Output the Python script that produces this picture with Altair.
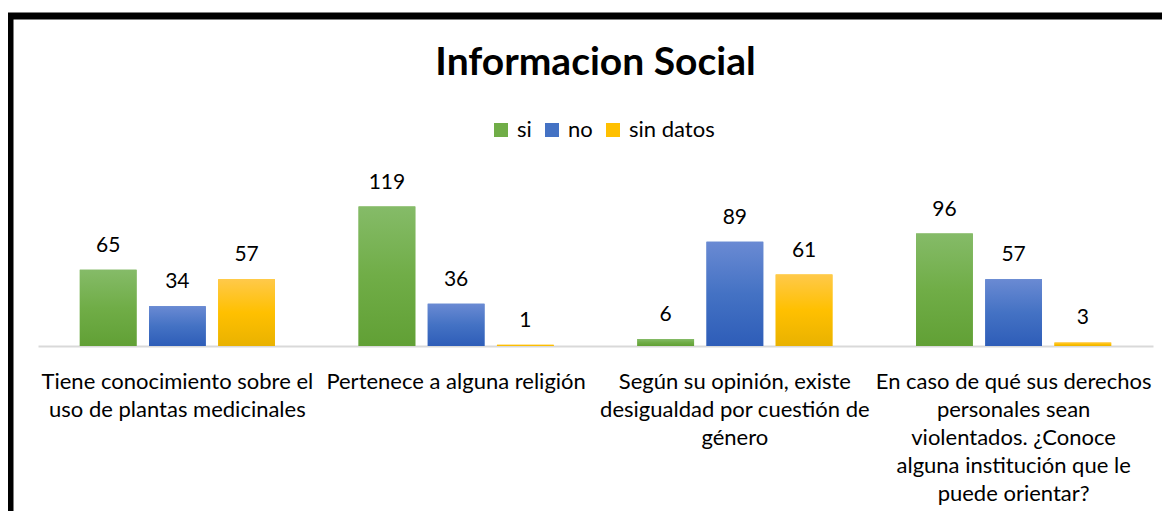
import json
import altair as alt
import pandas as pd

categories = [
    "Tiene conocimiento sobre el uso de plantas medicinales",
    "Pertenece a alguna religión",
    "Según su opinión, existe desigualdad por cuestión de género",
    "En caso de qué sus derechos personales sean violentados. ¿Conoce alguna institución que le puede orientar?",
]
label_lines = [
    ["Tiene conocimiento sobre el", "uso de plantas medicinales"],
    ["Pertenece a alguna religión"],
    ["Según su opinión, existe", "desigualdad por cuestión de", "género"],
    ["En caso de qué sus derechos", "personales sean", "violentados. ¿Conoce",
     "alguna institución que le", "puede orientar?"],
]
series = ["si", "no", "sin datos"]
si_values = [65, 119, 6, 96]
no_values = [34, 36, 89, 57]
sin_datos_values = [57, 1, 61, 3]

colors = ["#70AD47", "#4472C4", "#FFC000"]
grad_stops = [
    ["#85BB68", "#70AD47", "#61A035"],
    ["#6A8AD3", "#4472C4", "#2E5DB8"],
    ["#FFC94A", "#FFC000", "#E9B200"],
]

rows = []
for i, c in enumerate(categories):
    for s, vals in zip(series, [si_values, no_values, sin_datos_values]):
        rows.append({"categoria": c, "serie": s, "valor": vals[i]})
df = pd.DataFrame(rows)

label_expr = " : ".join(
    f"datum.value == {json.dumps(c, ensure_ascii=False)} ? {json.dumps(l, ensure_ascii=False)}"
    for c, l in zip(categories, label_lines)
) + " : datum.value"

FONT = "Lato"

x = alt.X(
    "categoria:N",
    sort=categories,
    scale=alt.Scale(paddingInner=0.3, paddingOuter=0.15),
    axis=alt.Axis(
        title=None, labelAngle=0, labelExpr=label_expr, labelFontSize=22,
        labelColor="#000000", labelFont=FONT, labelLineHeight=28,
        labelPadding=35, labelLimit=400, ticks=False, domainColor="#D9D9D9",
        domainWidth=2, labelBaseline="middle",
    ),
)
xoff = alt.XOffset(
    "serie:N", sort=series,
    scale=alt.Scale(domain=series, paddingInner=0.18, paddingOuter=0),
)
y = alt.Y("valor:Q", scale=alt.Scale(domain=[0, 140]), axis=None)

base = alt.Chart(df).encode(x=x, xOffset=xoff, y=y)

bars = base.mark_bar().encode(
    color=alt.Color(
        "serie:N", sort=series,
        scale=alt.Scale(domain=series, range=colors),
        legend=alt.Legend(
            title=None, orient="none", legendX=452, legendY=-63,
            direction="horizontal", symbolType="square", symbolSize=196,
            labelFontSize=22, labelFont=FONT, labelColor="#000000",
            columnPadding=9, labelOffset=5, padding=0, symbolStrokeWidth=0,
        ),
    )
)

grad_layers = []
for s, st in zip(series, grad_stops):
    grad_layers.append(
        base.transform_filter(alt.datum.serie == s).mark_bar(
            fill=alt.Gradient(
                gradient="linear", x1=0, y1=0, x2=0, y2=1,
                stops=[
                    alt.GradientStop(offset=0, color=st[0]),
                    alt.GradientStop(offset=0.5, color=st[1]),
                    alt.GradientStop(offset=1, color=st[2]),
                ],
            )
        )
    )

labels = base.mark_text(
    dy=-24, fontSize=21, font=FONT, color="#000000", baseline="middle"
).encode(text="valor:Q")

border = alt.Chart(pd.DataFrame({"k": [0]})).mark_rect(
    fill="transparent", stroke="#000000", strokeWidth=7
).encode(
    x=alt.value(-28), x2=alt.value(1200), y=alt.value(-166), y2=alt.value(400)
)

chart = alt.layer(bars, *grad_layers, labels, border).properties(
    width=1115,
    height=164,
    title=alt.TitleParams(
        "Informacion Social", fontSize=39, font=FONT, fontWeight="bold",
        color="#000000", anchor="middle", offset=0, dy=101,
        baseline="alphabetic",
    ),
    autosize=alt.AutoSizeParams(type="none"),
    padding={"left": 30, "top": 174, "right": 9, "bottom": 165},
).configure(background="white", view=alt.ViewConfig(stroke=None))

chart.save("out.html", embed_options={"renderer": "svg", "actions": False})
